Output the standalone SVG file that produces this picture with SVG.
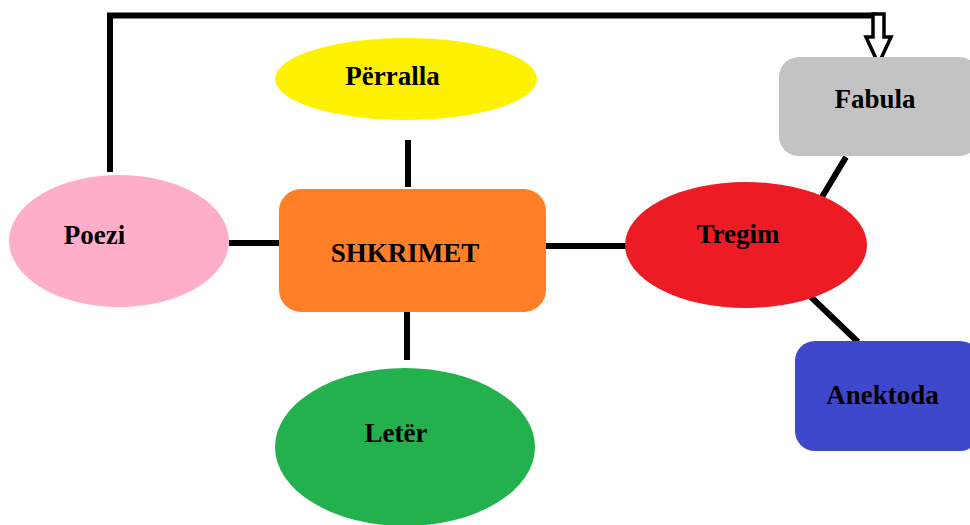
<svg xmlns="http://www.w3.org/2000/svg" width="970" height="525" viewBox="0 0 970 525">
<style>
.lbl{font-family:"Liberation Serif","Times New Roman",serif;font-weight:bold;font-size:27px;fill:#000;text-anchor:middle}
.ln{stroke:#000;stroke-width:6;fill:none}
</style>
<rect width="970" height="525" fill="#fff"/>
<g id="connectors">
<polyline class="ln" points="110,172 110,15.5 876,15.5"/>
<path d="M873,14 L884,14 L884,37 L891,37 L878.5,64 L866,37 L873,37 Z" fill="#fff" stroke="#000" stroke-width="3.5" stroke-linejoin="miter"/>
<line class="ln" x1="408" y1="140" x2="408" y2="187"/>
<line class="ln" x1="229" y1="243" x2="280" y2="243"/>
<line class="ln" x1="546" y1="246" x2="626" y2="246"/>
<line class="ln" x1="407" y1="312" x2="407" y2="360"/>
<line class="ln" x1="822" y1="197" x2="846" y2="157"/>
<line class="ln" x1="811" y1="297" x2="858" y2="342"/>
</g>
<g id="perralla"><ellipse cx="406" cy="79" rx="131" ry="41" fill="#FFF200"/><text class="lbl" x="392.5" y="85">Përralla</text></g>
<g id="shkrimet"><rect x="279" y="189" width="267" height="123" rx="22" fill="#FF7F27"/><text class="lbl" x="405" y="262">SHKRIMET</text></g>
<g id="poezi"><ellipse cx="119" cy="241" rx="110" ry="66" fill="#FFAEC9"/><text class="lbl" x="94.5" y="244">Poezi</text></g>
<g id="leter"><ellipse cx="405" cy="447" rx="130" ry="79" fill="#22B14C"/><text class="lbl" x="396" y="442">Letër</text></g>
<g id="tregim"><ellipse cx="746" cy="245" rx="121" ry="63" fill="#ED1C24"/><text class="lbl" x="738" y="243">Tregim</text></g>
<g id="fabula"><rect x="779" y="57" width="200" height="99" rx="20" fill="#C3C3C3"/><text class="lbl" x="875" y="108">Fabula</text></g>
<g id="anektoda"><rect x="795" y="341" width="185" height="110" rx="20" fill="#3F48CC"/><text class="lbl" x="882.5" y="404">Anektoda</text></g>
</svg>
